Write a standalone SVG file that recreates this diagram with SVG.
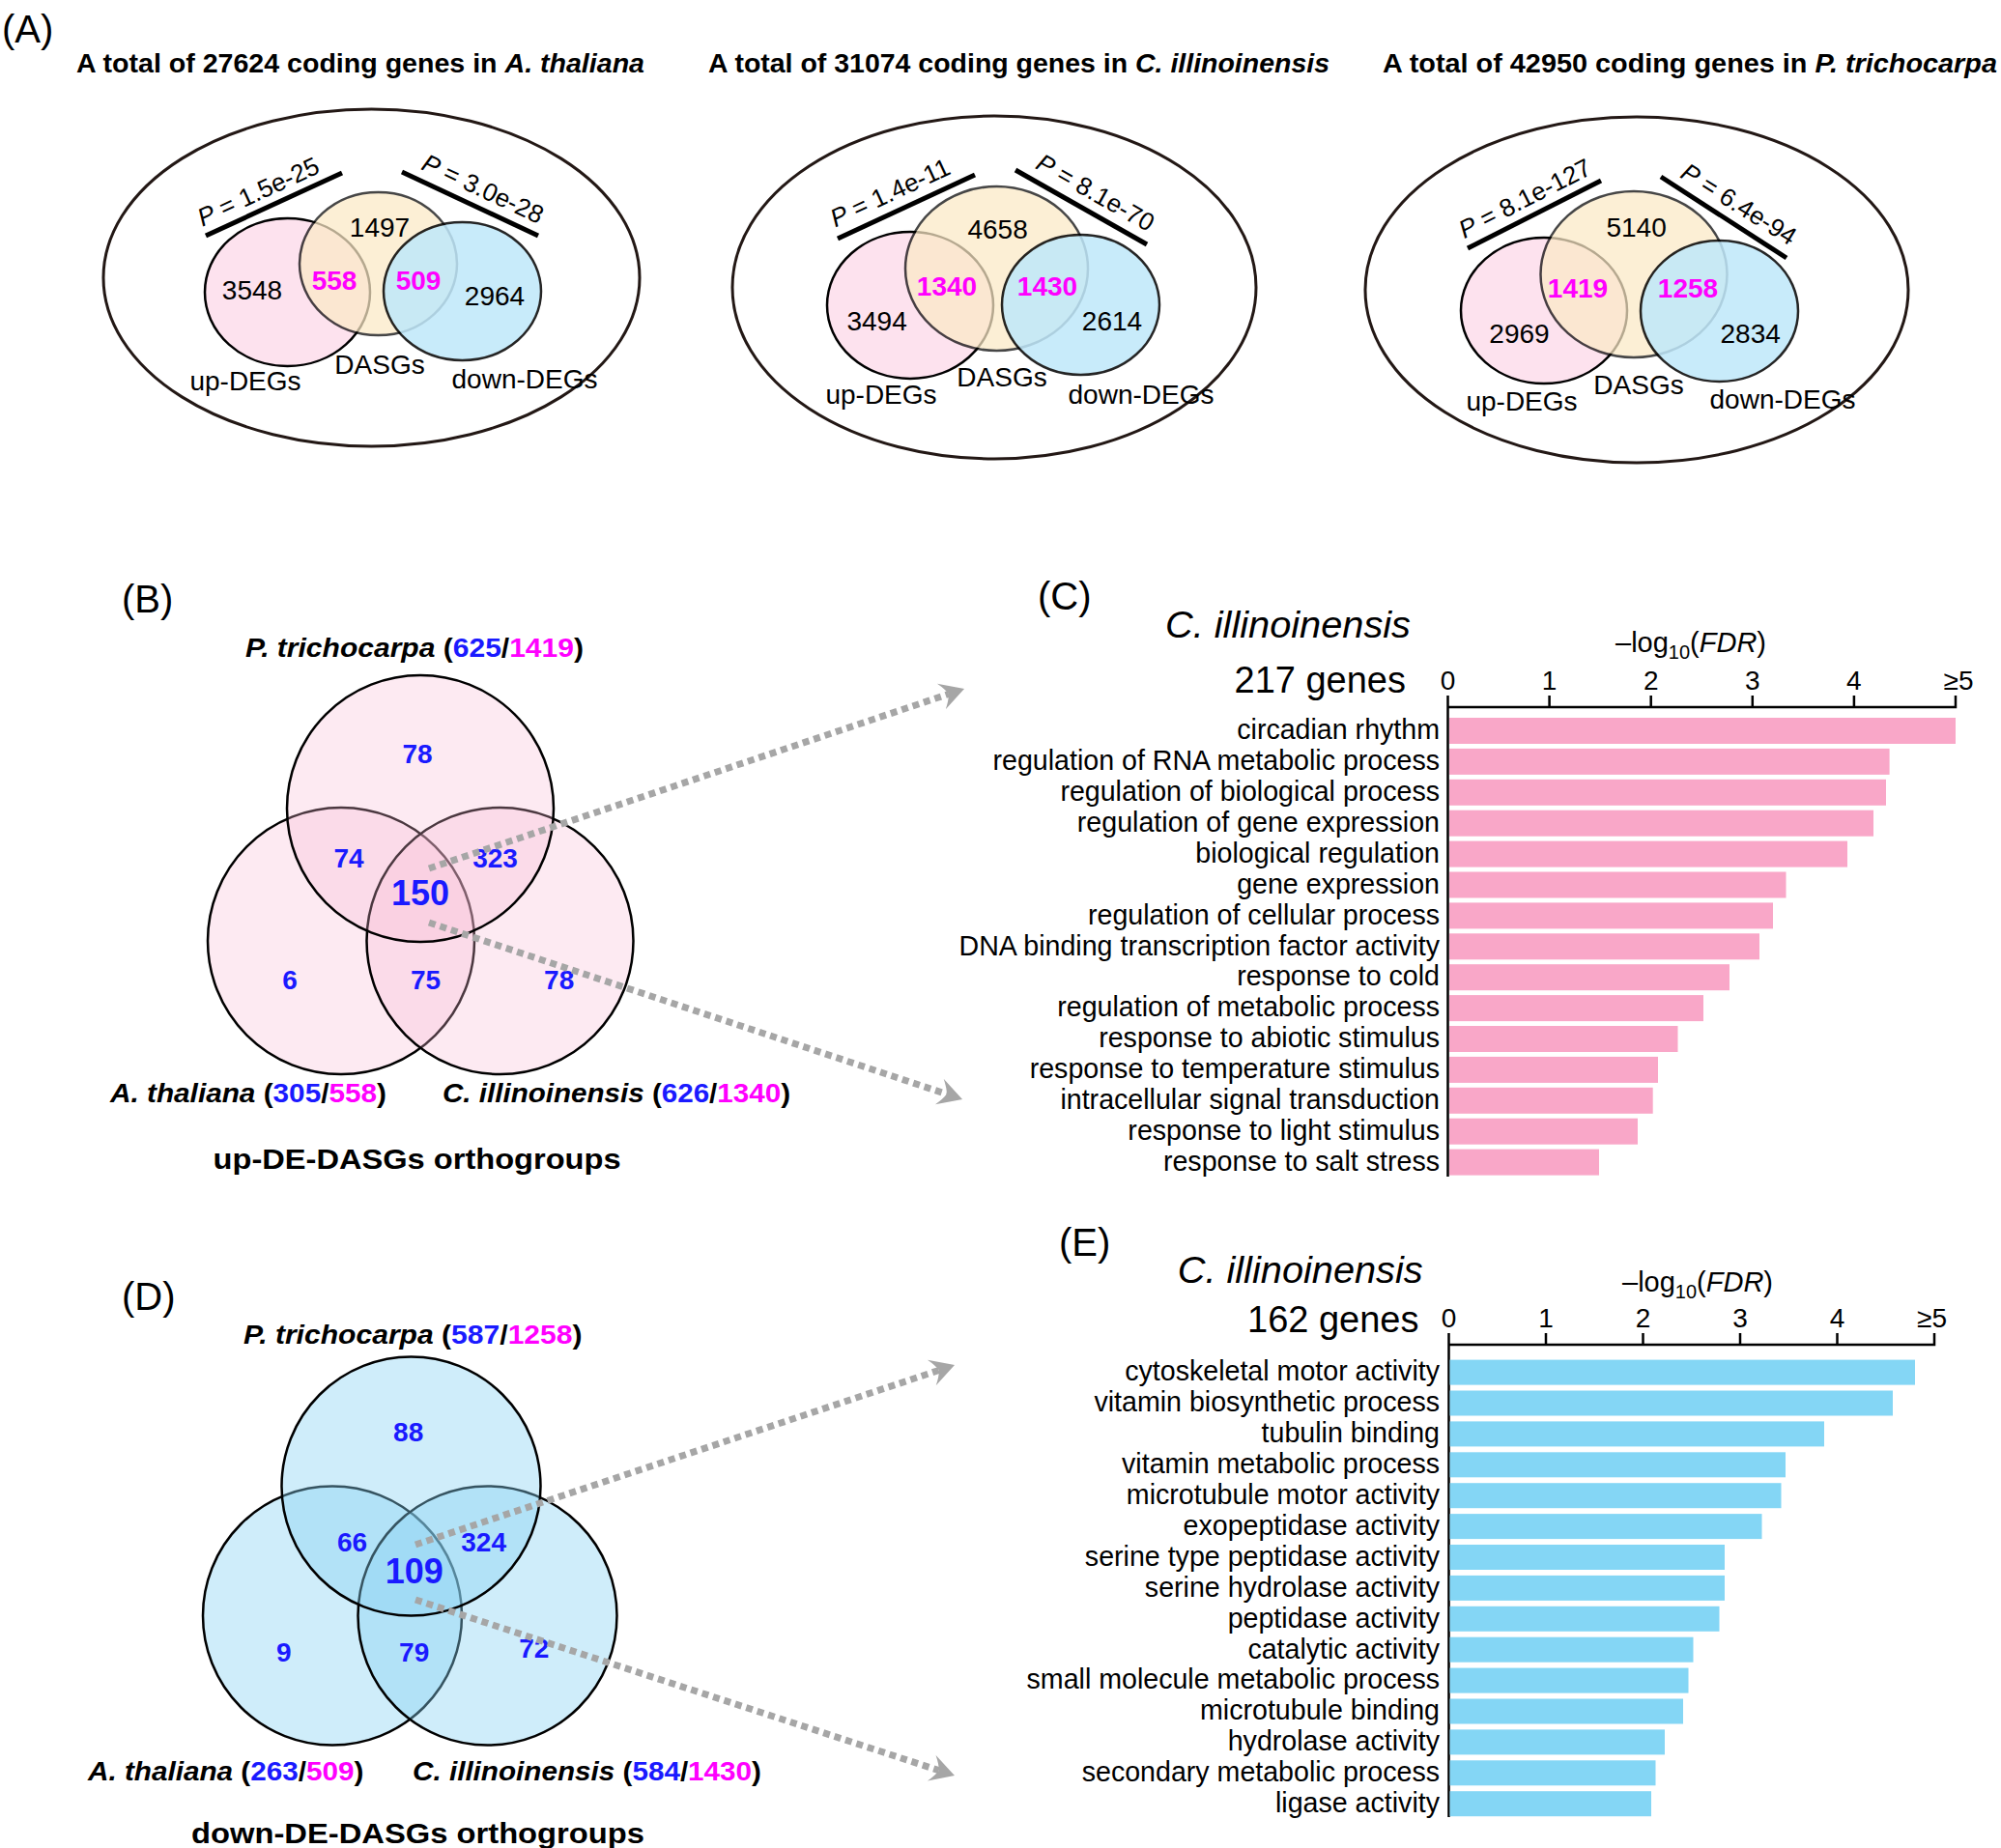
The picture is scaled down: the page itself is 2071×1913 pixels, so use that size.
<svg xmlns="http://www.w3.org/2000/svg" width="2071" height="1913" viewBox="0 0 2071 1913">
<defs>
<style>
text{font-family:'Liberation Sans',Arial,Helvetica,sans-serif;fill:#000}
.pl{font-size:40px}
.ttl{font-size:27px;font-weight:bold}
.n{font-size:28px;text-anchor:middle}
.m{font-size:28px;font-weight:bold;fill:#ff00ff;text-anchor:middle}
.p{font-size:26px;text-anchor:middle}
.bn{font-size:28px;font-weight:bold;fill:#1a1aff;text-anchor:middle}
.big{font-size:36px}
.sp{font-size:28px;font-weight:bold}
.og{font-size:30px;font-weight:bold}
.go{font-size:28.6px;text-anchor:end}
.tk{font-size:28px;text-anchor:middle}
.hd{font-size:38px}
.blu{fill:#1a1aff}
.mag{fill:#ff00ff}
.it{font-style:italic}
.outer{fill:none;stroke:#231815;stroke-width:3}
.vc{stroke:#000;stroke-width:2.5}
.pline{stroke:#000;stroke-width:5}
.vb{fill:#f7b9d3;fill-opacity:0.3;stroke:#000;stroke-width:2.5}
.vd{fill:#86d2f2;fill-opacity:0.4;stroke:#000;stroke-width:2.5}
.ax{stroke:#000;stroke-width:2.5;fill:none}
.barc{fill:#f9a7c8}
.bare{fill:#84d6f5}
.arr{stroke:#a6a6a6;stroke-width:7;stroke-dasharray:7 5;fill:none}
</style>
<marker id="ah" viewBox="0 0 25 28" refX="8" refY="14" markerWidth="25" markerHeight="28" markerUnits="userSpaceOnUse" orient="auto">
<path d="M25,14 L0,0 Q6,8 8,14 Q6,20 0,28 Z" fill="#a6a6a6"/>
</marker>
</defs>
<rect width="2071" height="1913" fill="#fff"/>

<!-- Panel A -->
<g id="panelA">
<text class="pl" x="2" y="44">(A)</text>
<text class="ttl" x="79" y="75" textLength="588" lengthAdjust="spacingAndGlyphs">A total of 27624 coding genes in <tspan class="it">A. thaliana</tspan></text>
<text class="ttl" x="733" y="75" textLength="643" lengthAdjust="spacingAndGlyphs">A total of 31074 coding genes in <tspan class="it">C. illinoinensis</tspan></text>
<text class="ttl" x="1431" y="75" textLength="636" lengthAdjust="spacingAndGlyphs">A total of 42950 coding genes in <tspan class="it">P. trichocarpa</tspan></text>
</g>

<g id="venn-A-thaliana">
<ellipse class="outer" cx="384.5" cy="287.5" rx="277.5" ry="174.5"/>
<ellipse class="vc" cx="297.5" cy="302.5" rx="85.5" ry="76.5" fill="#fde2ee"/>
<ellipse class="vc" cx="391.5" cy="273" rx="81.5" ry="74" fill="#fbe9c6" opacity="0.72"/>
<ellipse class="vc" cx="478.5" cy="301.5" rx="81.5" ry="71.5" fill="#bfe8fa" opacity="0.85"/>
<line class="pline" x1="213" y1="244" x2="354" y2="179"/>
<line class="pline" x1="416" y1="178" x2="557" y2="244"/>
<g transform="translate(267,198) rotate(-24.7)"><text class="p" y="9.3"><tspan class="it">P</tspan> = 1.5e-25</text></g>
<g transform="translate(500,195) rotate(25)"><text class="p" y="9.3"><tspan class="it">P</tspan> = 3.0e-28</text></g>
<text class="n" x="393" y="245">1497</text>
<text class="n" x="261" y="310">3548</text>
<text class="m" x="346" y="300">558</text>
<text class="m" x="433" y="300">509</text>
<text class="n" x="512" y="316">2964</text>
<text class="n" x="254" y="404">up-DEGs</text>
<text class="n" x="393" y="387">DASGs</text>
<text class="n" x="543" y="402">down-DEGs</text>
</g>

<g id="venn-A-illinoinensis">
<ellipse class="outer" cx="1029" cy="297.5" rx="271" ry="177.5"/>
<ellipse class="vc" cx="942" cy="316" rx="86" ry="76" fill="#fde2ee"/>
<ellipse class="vc" cx="1031.5" cy="278" rx="94.5" ry="85" fill="#fbe9c6" opacity="0.72"/>
<ellipse class="vc" cx="1118.5" cy="315.5" rx="81.5" ry="72.5" fill="#bfe8fa" opacity="0.85"/>
<line class="pline" x1="867" y1="247" x2="1009" y2="181"/>
<line class="pline" x1="1051" y1="176" x2="1187" y2="253"/>
<g transform="translate(921,199) rotate(-24.9)"><text class="p" y="9.3"><tspan class="it">P</tspan> = 1.4e-11</text></g>
<g transform="translate(1134,199) rotate(29.5)"><text class="p" y="9.3"><tspan class="it">P</tspan> = 8.1e-70</text></g>
<text class="n" x="1032.6" y="247">4658</text>
<text class="m" x="980" y="306">1340</text>
<text class="m" x="1084" y="306">1430</text>
<text class="n" x="907.6" y="342">3494</text>
<text class="n" x="1151" y="342">2614</text>
<text class="n" x="912" y="418">up-DEGs</text>
<text class="n" x="1037" y="400">DASGs</text>
<text class="n" x="1181" y="418">down-DEGs</text>
</g>

<g id="venn-A-trichocarpa">
<ellipse class="outer" cx="1694" cy="300" rx="281" ry="179"/>
<ellipse class="vc" cx="1598" cy="321.5" rx="86" ry="75.5" fill="#fde2ee"/>
<ellipse class="vc" cx="1691" cy="284" rx="96.5" ry="86" fill="#fbe9c6" opacity="0.72"/>
<ellipse class="vc" cx="1779.5" cy="322" rx="81.5" ry="73" fill="#bfe8fa" opacity="0.85"/>
<line class="pline" x1="1519" y1="257" x2="1657" y2="187"/>
<line class="pline" x1="1719" y1="183" x2="1849" y2="267"/>
<g transform="translate(1578,205) rotate(-26.9)"><text class="p" y="9.3"><tspan class="it">P</tspan> = 8.1e-127</text></g>
<g transform="translate(1800,211) rotate(32)"><text class="p" y="9.3"><tspan class="it">P</tspan> = 6.4e-94</text></g>
<text class="n" x="1693.6" y="245">5140</text>
<text class="m" x="1633" y="308">1419</text>
<text class="m" x="1747" y="308">1258</text>
<text class="n" x="1572.5" y="355">2969</text>
<text class="n" x="1811.7" y="355">2834</text>
<text class="n" x="1575" y="425">up-DEGs</text>
<text class="n" x="1696" y="408">DASGs</text>
<text class="n" x="1845" y="423">down-DEGs</text>
</g>

<!-- Panel B -->
<g id="venn-B-up">
<text class="pl" x="126" y="634">(B)</text>
<text class="sp" x="254" y="680" textLength="350" lengthAdjust="spacingAndGlyphs"><tspan class="it">P. trichocarpa</tspan> (<tspan class="blu">625</tspan>/<tspan class="mag">1419</tspan>)</text>
<circle class="vb" cx="353" cy="974" r="138"/>
<circle class="vb" cx="517.5" cy="974" r="138"/>
<circle class="vb" cx="435" cy="837" r="138"/>
<text class="bn" x="432" y="789.5">78</text>
<text class="bn" x="361" y="898">74</text>
<text class="bn" x="512.5" y="898">323</text>
<text class="bn big" x="435" y="937">150</text>
<text class="bn" x="300" y="1023.5">6</text>
<text class="bn" x="440.6" y="1023.5">75</text>
<text class="bn" x="578.7" y="1023.5">78</text>
<text class="sp" x="114" y="1140.5" textLength="286" lengthAdjust="spacingAndGlyphs"><tspan class="it">A. thaliana</tspan> (<tspan class="blu">305</tspan>/<tspan class="mag">558</tspan>)</text>
<text class="sp" x="458" y="1140.5" textLength="360" lengthAdjust="spacingAndGlyphs"><tspan class="it">C. illinoinensis</tspan> (<tspan class="blu">626</tspan>/<tspan class="mag">1340</tspan>)</text>
<text class="og" x="220.6" y="1210" textLength="422" lengthAdjust="spacingAndGlyphs">up-DE-DASGs orthogroups</text>
</g>

<!-- Panel D -->
<g id="venn-D-down">
<text class="pl" x="126" y="1356">(D)</text>
<text class="sp" x="252" y="1391" textLength="350.6" lengthAdjust="spacingAndGlyphs"><tspan class="it">P. trichocarpa</tspan> (<tspan class="blu">587</tspan>/<tspan class="mag">1258</tspan>)</text>
<circle class="vd" cx="344" cy="1672.5" r="134"/>
<circle class="vd" cx="504.5" cy="1672.5" r="134"/>
<circle class="vd" cx="425.5" cy="1538.5" r="134"/>
<text class="bn" x="422.7" y="1492">88</text>
<text class="bn" x="364.6" y="1606">66</text>
<text class="bn" x="500.6" y="1606">324</text>
<text class="bn big" x="428.7" y="1639">109</text>
<text class="bn" x="293.8" y="1720">9</text>
<text class="bn" x="428.7" y="1720">79</text>
<text class="bn" x="552.8" y="1716">72</text>
<text class="sp" x="91" y="1843" textLength="285.5" lengthAdjust="spacingAndGlyphs"><tspan class="it">A. thaliana</tspan> (<tspan class="blu">263</tspan>/<tspan class="mag">509</tspan>)</text>
<text class="sp" x="427" y="1843" textLength="361" lengthAdjust="spacingAndGlyphs"><tspan class="it">C. illinoinensis</tspan> (<tspan class="blu">584</tspan>/<tspan class="mag">1430</tspan>)</text>
<text class="og" x="198" y="1908" textLength="469" lengthAdjust="spacingAndGlyphs">down-DE-DASGs orthogroups</text>
</g>

<!-- Connectors -->
<g id="connectors">
<line class="arr" x1="444" y1="899" x2="981.9" y2="718.4" marker-end="url(#ah)"/>
<line class="arr" x1="444" y1="955" x2="979.9" y2="1132.6" marker-end="url(#ah)"/>
<line class="arr" x1="430" y1="1599" x2="971.9" y2="1418.4" marker-end="url(#ah)"/>
<line class="arr" x1="430" y1="1656" x2="971.8" y2="1832.7" marker-end="url(#ah)"/>
</g>

<!-- Panel C -->
<g id="chart-C">
<text class="pl" x="1074" y="631">(C)</text>
<text class="hd it" x="1206" y="660" textLength="254" lengthAdjust="spacingAndGlyphs">C. illinoinensis</text>
<text class="hd" x="1455" y="717" text-anchor="end">217 genes</text>
<text x="1672" y="675" font-size="29">–log<tspan font-size="20" dy="7">10</tspan><tspan dy="-7">(</tspan><tspan class="it">FDR</tspan>)</text>
<path class="ax" d="M1497.25,732 H2025.25 M1498.5,720 V1218 M1603.6,720 V732 M1708.7,720 V732 M1813.8,720 V732 M1918.9,720 V732 M2024,720 V732"/>
<text class="tk" x="1498.5" y="714">0</text>
<text class="tk" x="1603.6" y="714">1</text>
<text class="tk" x="1708.7" y="714">2</text>
<text class="tk" x="1813.8" y="714">3</text>
<text class="tk" x="1918.9" y="714">4</text>
<text class="tk" x="2027" y="714">≥5</text>
<g class="barc">
<rect x="1500" y="743" width="524" height="27"/>
<rect x="1500" y="774.9" width="455.6" height="27"/>
<rect x="1500" y="806.8" width="452" height="27"/>
<rect x="1500" y="838.7" width="439" height="27"/>
<rect x="1500" y="870.6" width="412" height="27"/>
<rect x="1500" y="902.5" width="348.5" height="27"/>
<rect x="1500" y="934.4" width="335" height="27"/>
<rect x="1500" y="966.3" width="321" height="27"/>
<rect x="1500" y="998.2" width="290" height="27"/>
<rect x="1500" y="1030.1" width="263" height="27"/>
<rect x="1500" y="1062" width="236.5" height="27"/>
<rect x="1500" y="1093.9" width="216" height="27"/>
<rect x="1500" y="1125.8" width="210.7" height="27"/>
<rect x="1500" y="1157.7" width="195" height="27"/>
<rect x="1500" y="1189.6" width="155" height="27"/>
</g>
<text class="go" x="1490" y="765.2">circadian rhythm</text>
<text class="go" x="1490" y="797.1">regulation of RNA metabolic process</text>
<text class="go" x="1490" y="829">regulation of biological process</text>
<text class="go" x="1490" y="860.9">regulation of gene expression</text>
<text class="go" x="1490" y="892.8">biological regulation</text>
<text class="go" x="1490" y="924.7">gene expression</text>
<text class="go" x="1490" y="956.6">regulation of cellular process</text>
<text class="go" x="1490" y="988.5">DNA binding transcription factor activity</text>
<text class="go" x="1490" y="1020.4">response to cold</text>
<text class="go" x="1490" y="1052.3">regulation of metabolic process</text>
<text class="go" x="1490" y="1084.2">response to abiotic stimulus</text>
<text class="go" x="1490" y="1116.1">response to temperature stimulus</text>
<text class="go" x="1490" y="1148">intracellular signal transduction</text>
<text class="go" x="1490" y="1179.9">response to light stimulus</text>
<text class="go" x="1490" y="1211.8">response to salt stress</text>
</g>

<!-- Panel E -->
<g id="chart-E">
<text class="pl" x="1096" y="1300">(E)</text>
<text class="hd it" x="1218.7" y="1327.6" textLength="254" lengthAdjust="spacingAndGlyphs">C. illinoinensis</text>
<text class="hd" x="1468.5" y="1379" text-anchor="end">162 genes</text>
<text x="1679" y="1336.5" font-size="29">–log<tspan font-size="20" dy="7">10</tspan><tspan dy="-7">(</tspan><tspan class="it">FDR</tspan>)</text>
<path class="ax" d="M1498.25,1392 H2003.25 M1499.5,1380 V1881 M1600,1380 V1392 M1700.5,1380 V1392 M1801,1380 V1392 M1901.5,1380 V1392 M2002,1380 V1392"/>
<text class="tk" x="1499.5" y="1374">0</text>
<text class="tk" x="1600" y="1374">1</text>
<text class="tk" x="1700.5" y="1374">2</text>
<text class="tk" x="1801" y="1374">3</text>
<text class="tk" x="1901.5" y="1374">4</text>
<text class="tk" x="1999.5" y="1374">≥5</text>
<g class="bare">
<rect x="1500.5" y="1407.6" width="481.5" height="26"/>
<rect x="1500.5" y="1439.5" width="458.5" height="26"/>
<rect x="1500.5" y="1471.4" width="387.5" height="26"/>
<rect x="1500.5" y="1503.3" width="347.5" height="26"/>
<rect x="1500.5" y="1535.2" width="343" height="26"/>
<rect x="1500.5" y="1567.1" width="323" height="26"/>
<rect x="1500.5" y="1599" width="284.5" height="26"/>
<rect x="1500.5" y="1630.9" width="284.5" height="26"/>
<rect x="1500.5" y="1662.8" width="279" height="26"/>
<rect x="1500.5" y="1694.7" width="252" height="26"/>
<rect x="1500.5" y="1726.6" width="247" height="26"/>
<rect x="1500.5" y="1758.5" width="241.5" height="26"/>
<rect x="1500.5" y="1790.4" width="222.5" height="26"/>
<rect x="1500.5" y="1822.3" width="213" height="26"/>
<rect x="1500.5" y="1854.2" width="208.5" height="26"/>
</g>
<text class="go" x="1490" y="1429.4">cytoskeletal motor activity</text>
<text class="go" x="1490" y="1461.3">vitamin biosynthetic process</text>
<text class="go" x="1490" y="1493.2">tubulin binding</text>
<text class="go" x="1490" y="1525.1">vitamin metabolic process</text>
<text class="go" x="1490" y="1557">microtubule motor activity</text>
<text class="go" x="1490" y="1588.9">exopeptidase activity</text>
<text class="go" x="1490" y="1620.8">serine type peptidase activity</text>
<text class="go" x="1490" y="1652.7">serine hydrolase activity</text>
<text class="go" x="1490" y="1684.6">peptidase activity</text>
<text class="go" x="1490" y="1716.5">catalytic activity</text>
<text class="go" x="1490" y="1748.4">small molecule metabolic process</text>
<text class="go" x="1490" y="1780.3">microtubule binding</text>
<text class="go" x="1490" y="1812.2">hydrolase activity</text>
<text class="go" x="1490" y="1844.1">secondary metabolic process</text>
<text class="go" x="1490" y="1876">ligase activity</text>
</g>
</svg>
